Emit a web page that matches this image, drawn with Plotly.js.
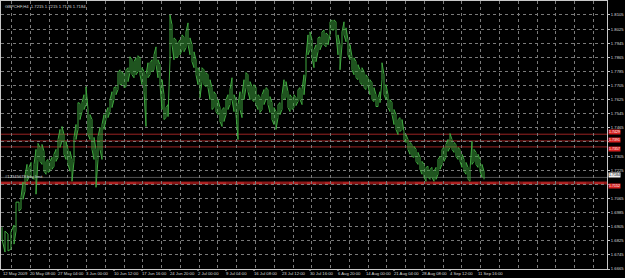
<!DOCTYPE html>
<html>
<head>
<meta charset="utf-8">
<script src="https://cdn.plot.ly/plotly-3.0.1.min.js"></script>
<style>html,body{margin:0;padding:0;background:#000;}#chart{width:625px;height:278px;}</style>
</head>
<body>
<div id="chart"></div>
<script>
// Bar index (position along the time axis) of each sampled H4 bar
const bars = [
  2,5,8,11,14,16,19,21,23,25,
  27,29,31,34,36,38,40,42,44,46,
  48,50,52,54,56,58,60,62,64,66,
  68,70,72,74,76,78,80,82,84,86,
  88,90,92,94,96,98,100,102,104,106,
  108,110,112,114,116,118,120,122,124,126,
  128,130,132,134,136,138,140,142,144,146,
  148,150,152,154,156,158,160,162,164,166,
  168,170,172,174,176,178,180,182,184,186,
  188,190,192,194,196,198,200,202,204,206,
  208,210,212,214,216,218,220,222,224,226,
  228,230,232,234,236,238,240,242,244,246,
  248,250,252,254,256,258,260,262,264,266,
  268,270,272,274,276,278,280,282,284,286,
  288,290,292,294,296,298,300,302,304,306,
  308,310,312,314,316,318,320,322,324,326,
  328,330,332,334,336,338,340,342,344,346,
  348,350,352,354,356,358,360,362,364,366,
  368,370,372,374,376,378,380,382,384,386,
  388,390,392,394,396,398,400,402,404,406,
  408,410,412,414,416,418,420,422,424,426,
  428,430,432,434,436,438,440,442,444,446,
  448,450,452,454,456,458,460,462,464,466,
  468,470,472,474,476,478,480,482,484
];
const highs = [
  1.6902,1.6880,1.6863,1.6874,1.6914,1.7044,1.7044,1.7072,1.7157,1.7196,
  1.7258,1.7241,1.7269,1.7258,1.7343,1.7377,1.7354,1.7371,1.7332,1.7275,
  1.7286,1.7275,1.7298,1.7315,1.7343,1.7399,1.7456,1.7473,1.7427,1.7388,
  1.7343,1.7332,1.7286,1.7411,1.7484,1.7608,1.7603,1.7608,1.7653,1.7698,
  1.7569,1.7540,1.7512,1.7411,1.7343,1.7416,1.7467,1.7484,1.7540,1.7552,
  1.7580,1.7625,1.7670,1.7693,1.7698,1.7778,1.7794,1.7783,1.7766,1.7794,
  1.7806,1.7868,1.7851,1.7840,1.7862,1.7874,1.7862,1.7806,1.7783,1.7766,
  1.7834,1.7834,1.7851,1.7879,1.7924,1.7851,1.7823,1.7738,1.7653,1.7580,
  1.7597,1.8105,1.8049,1.7975,1.7964,1.7947,1.7964,1.7992,1.7981,1.8009,
  1.8060,1.7975,1.7936,1.7896,1.7851,1.7806,1.7783,1.7806,1.7794,1.7778,
  1.7766,1.7738,1.7693,1.7670,1.7653,1.7625,1.7580,1.7569,1.7580,1.7625,
  1.7653,1.7682,1.7749,1.7653,1.7625,1.7597,1.7670,1.7653,1.7738,1.7778,
  1.7766,1.7727,1.7698,1.7710,1.7693,1.7653,1.7642,1.7653,1.7682,1.7693,
  1.7682,1.7642,1.7608,1.7580,1.7557,1.7597,1.7608,1.7653,1.7738,1.7727,
  1.7670,1.7653,1.7636,1.7653,1.7636,1.7682,1.7693,1.7682,1.7766,1.7868,
  1.7992,1.8009,1.7964,1.7907,1.7936,1.7975,1.7981,1.8009,1.8020,1.8003,
  1.7992,1.8066,1.8077,1.8077,1.8066,1.7992,1.7936,1.8009,1.8066,1.8032,
  1.7964,1.7936,1.7868,1.7862,1.7840,1.7823,1.7794,1.7806,1.7783,1.7766,
  1.7749,1.7738,1.7721,1.7693,1.7653,1.7636,1.7670,1.7834,1.7766,1.7710,
  1.7653,1.7625,1.7608,1.7569,1.7540,1.7512,1.7523,1.7512,1.7444,1.7427,
  1.7399,1.7382,1.7371,1.7360,1.7343,1.7326,1.7298,1.7275,1.7258,1.7241,
  1.7247,1.7230,1.7241,1.7219,1.7241,1.7286,1.7303,1.7343,1.7354,1.7371,
  1.7399,1.7433,1.7399,1.7382,1.7371,1.7354,1.7343,1.7315,1.7286,1.7269,
  1.7241,1.7230,1.7388,1.7343,1.7326,1.7315,1.7286,1.7258,1.7219
];
const lows = [
  1.6835,1.6761,1.6767,1.6778,1.6806,1.6880,1.6993,1.7004,1.7060,1.7106,
  1.7162,1.7185,1.7190,1.7173,1.7089,1.7286,1.7275,1.7258,1.7219,1.7202,
  1.7213,1.7219,1.7230,1.7247,1.7275,1.7298,1.7354,1.7388,1.7315,1.7286,
  1.7258,1.7219,1.7162,1.7275,1.7399,1.7456,1.7512,1.7557,1.7569,1.7597,
  1.7427,1.7399,1.7343,1.7286,1.7128,1.7286,1.7343,1.7286,1.7456,1.7512,
  1.7523,1.7557,1.7580,1.7625,1.7653,1.7682,1.7710,1.7710,1.7693,1.7698,
  1.7727,1.7778,1.7766,1.7749,1.7766,1.7783,1.7766,1.7710,1.7670,1.7473,
  1.7749,1.7766,1.7783,1.7794,1.7823,1.7749,1.7710,1.7569,1.7512,1.7523,
  1.7529,1.7851,1.7936,1.7851,1.7862,1.7868,1.7879,1.7907,1.7896,1.7919,
  1.7936,1.7879,1.7840,1.7806,1.7766,1.7710,1.7636,1.7727,1.7710,1.7698,
  1.7693,1.7625,1.7569,1.7580,1.7557,1.7540,1.7501,1.7473,1.7501,1.7540,
  1.7569,1.7597,1.7625,1.7557,1.7540,1.7399,1.7569,1.7523,1.7625,1.7693,
  1.7670,1.7625,1.7625,1.7614,1.7597,1.7569,1.7552,1.7569,1.7597,1.7625,
  1.7597,1.7552,1.7512,1.7484,1.7456,1.7523,1.7540,1.7569,1.7625,1.7636,
  1.7580,1.7557,1.7569,1.7580,1.7591,1.7614,1.7625,1.7597,1.7653,1.7766,
  1.7879,1.7907,1.7862,1.7806,1.7840,1.7896,1.7907,1.7936,1.7936,1.7924,
  1.7936,1.7992,1.8020,1.8020,1.7992,1.7879,1.7794,1.7936,1.7992,1.7953,
  1.7879,1.7851,1.7794,1.7766,1.7749,1.7738,1.7721,1.7710,1.7693,1.7682,
  1.7698,1.7653,1.7625,1.7614,1.7586,1.7586,1.7608,1.7738,1.7653,1.7625,
  1.7580,1.7557,1.7540,1.7484,1.7456,1.7427,1.7444,1.7456,1.7399,1.7382,
  1.7343,1.7315,1.7303,1.7298,1.7275,1.7258,1.7230,1.7202,1.7185,1.7162,
  1.7185,1.7173,1.7185,1.7162,1.7173,1.7202,1.7230,1.7258,1.7275,1.7298,
  1.7332,1.7354,1.7343,1.7326,1.7303,1.7286,1.7275,1.7241,1.7219,1.7202,
  1.7173,1.7162,1.7258,1.7275,1.7258,1.7241,1.7219,1.7185,1.7173
];

// Time-axis labels and the bar index they mark
const dateLabels = ["12 May 2009","20 May 08:00","27 May 04:00","3 Jun 00:00","10 Jun 12:00","17 Jun 16:00",
  "24 Jun 20:00","2 Jul 00:00","9 Jul 04:00","16 Jul 08:00","23 Jul 12:00","30 Jul 16:00",
  "6 Aug 20:00","14 Aug 00:00","21 Aug 04:00","28 Aug 08:00","4 Sep 12:00","11 Sep 16:00"];
const dateBars = [3,30,58,86,114,142,170,198,226,254,282,310,338,366,394,422,450,478];

// Price scale labels
const priceTicks = [1.6665,1.6745,1.6825,1.6905,1.6985,1.7065,1.7145,1.7225,1.7305,1.7385,
  1.7465,1.7545,1.7625,1.7705,1.7785,1.7865,1.7945,1.8025,1.8105];

// Header quote, bid and horizontal levels
const symbol = "GBPCHF,H4";
const quote = [1.7215, 1.7215, 1.7176, 1.7184];
const bid = 1.7184;
const levels = [1.7429, 1.7391, 1.7357];
const orderLevel = 1.7152;
const orderText = "#12345678 buy limit";

// build the zig-zag high/low path
const px = [], py = [];
for (let i = 0; i < bars.length; i++) {
  if (i % 2 === 0) { px.push(bars[i], bars[i]); py.push(highs[i], lows[i]); }
  else { px.push(bars[i], bars[i]); py.push(lows[i], highs[i]); }
}

const XMIN = 1, XMAX = 607;
const gridX = [];
for (let k = 0; k < 32; k++) gridX.push(11.5 + 18.77 * k);

const txt = '#d8d8d8';
const gridCol = '#7a7a7a';
const FONT = 'Liberation Sans, Arial';
const FS = 4.2;

// scale labels hidden behind a price tag (as on the terminal, the tag covers them)
const tagged = levels.concat([orderLevel, bid]);
const priceText = priceTicks.map(v => tagged.some(t => Math.abs(t - v) < 0.0012) ? '' : v.toFixed(4));

const traces = [
  {x: px, y: py, type: 'scatter', mode: 'lines', line: {color: '#3fa83f', width: 1},
   hoverinfo: 'skip', showlegend: false, xaxis: 'x', yaxis: 'y'}
];

const shapes = [];
levels.forEach(v => shapes.push({type: 'line', xref: 'paper', x0: 0, x1: 1, yref: 'y', y0: v, y1: v,
  line: {color: '#9a2222', width: 1}, layer: 'below'}));
shapes.push({type: 'line', xref: 'paper', x0: 0, x1: 1, yref: 'y', y0: bid, y1: bid,
  line: {color: '#505050', width: 1}, layer: 'below'});
shapes.push({type: 'line', xref: 'paper', x0: 0, x1: 1, yref: 'y', y0: orderLevel, y1: orderLevel,
  line: {color: '#8c1818', width: 3}, layer: 'below'});
shapes.push({type: 'line', xref: 'paper', x0: 0, x1: 1, yref: 'y', y0: orderLevel, y1: orderLevel,
  line: {color: '#d03030', width: 1, dash: 'dash'}, layer: 'below'});
// small tick marks under the date labels
dateBars.forEach(b => shapes.push({type: 'line', xref: 'x', x0: b, x1: b, yref: 'paper', ysizemode: 'pixel',
  yanchor: 0, y0: 0, y1: -2, line: {color: '#c8c8c8', width: 1}}));

const annotations = [];
annotations.push({xref: 'paper', yref: 'paper', x: 0, y: 1, xanchor: 'left', yanchor: 'top', xshift: 2, yshift: -1,
  text: symbol + '  ' + quote.map(v => v.toFixed(4)).join(' '), showarrow: false,
  font: {family: FONT, size: FS, color: txt}});
annotations.push({xref: 'paper', yref: 'y', x: 0, y: orderLevel, xanchor: 'left', yanchor: 'bottom', xshift: 2, yshift: 2,
  text: orderText, showarrow: false, font: {family: FONT, size: FS, color: txt}});
// date labels, left-aligned at their bar
dateBars.forEach((b, i) => annotations.push({xref: 'x', yref: 'paper', x: b, y: 0, xanchor: 'left', yanchor: 'top',
  xshift: -1, yshift: -1, text: dateLabels[i], showarrow: false, borderpad: 0,
  font: {family: FONT, size: FS, color: txt}}));
// price tags on the scale (nudged so stacked tags do not overlap)
const tagShift = [2.5, 0.5, -2, -2.5];
levels.concat([orderLevel]).forEach((v, i) => annotations.push({xref: 'paper', yref: 'y', x: 1, y: v, xanchor: 'left',
  yanchor: 'middle', xshift: 1, yshift: tagShift[i], text: v.toFixed(4), showarrow: false, bgcolor: '#d42020', borderpad: 0,
  font: {family: FONT, size: 3.6, color: '#ffffff'}}));
annotations.push({xref: 'paper', yref: 'y', x: 1, y: bid, xanchor: 'left', yanchor: 'middle', xshift: 1, yshift: 2,
  text: bid.toFixed(4), showarrow: false, bgcolor: '#f0f0f0', borderpad: 0,
  font: {family: FONT, size: 3.6, color: '#000000'}});

const layout = {
  width: 625, height: 278,
  paper_bgcolor: '#000000', plot_bgcolor: '#000000',
  margin: {l: 1, r: 18, t: 1, b: 9, pad: 0},
  showlegend: false,
  font: {family: FONT, size: FS, color: txt},
  xaxis: {range: [XMIN, XMAX], tickmode: 'array', tickvals: gridX, showticklabels: false, ticks: '',
    showgrid: true, gridcolor: gridCol, griddash: 'dot', gridwidth: 1, zeroline: false,
    showline: true, mirror: true, linecolor: '#c8c8c8', linewidth: 1, automargin: false},
  yaxis: {side: 'right', range: [1.6665, 1.8184], tickmode: 'array', tickvals: priceTicks,
    ticktext: priceText, ticks: 'outside', ticklen: 2, tickcolor: '#c8c8c8',
    showgrid: true, gridcolor: gridCol, griddash: 'dot', gridwidth: 1, zeroline: false,
    showline: true, mirror: true, linecolor: '#c8c8c8', linewidth: 1, automargin: false,
    tickfont: {family: FONT, size: FS, color: txt}},
  shapes: shapes,
  annotations: annotations
};

Plotly.newPlot('chart', traces, layout, {staticPlot: true, displayModeBar: false});
</script>
</body>
</html>
